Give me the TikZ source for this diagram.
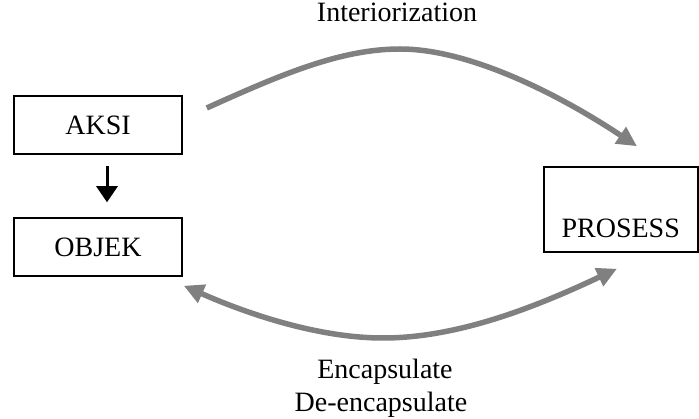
\documentclass[tikz,border=0pt]{standalone}
\usepackage{fontspec}
\setmainfont{Liberation Serif}
\usetikzlibrary{arrows.meta,calc}
\begin{document}
\begin{tikzpicture}[x=1pt,y=-1pt,
  box/.style={draw=black,line width=1.5pt,inner sep=0pt,font=\fontsize{28}{33}\selectfont},
  lbl/.style={inner sep=0pt,anchor=base,font=\fontsize{28}{33}\selectfont},
  garrow/.style={draw={rgb,255:red,128;green,128;blue,128},line width=5.5pt,
     -{Triangle[length=20pt,width=19pt]}},
  darrow/.style={draw={rgb,255:red,128;green,128;blue,128},line width=5.5pt,
     {Triangle[length=20pt,width=19pt]}-{Triangle[length=20pt,width=19pt]}},
  barrow/.style={draw=black,line width=3pt,-{Triangle[length=16pt,width=21pt]}}]
\useasboundingbox (0,0) rectangle (699,419);
\node[box,minimum width=168pt,minimum height=58pt] (aksi) at (98,125) {AKSI};
\node[box,minimum width=168pt,minimum height=58pt] (objek) at (98,247) {OBJEK};
\node[box,text width=154pt,align=center,text height=71pt,text depth=14pt,anchor=base west] (prosess) at (543,238) {PROSESS};
\node[lbl] (inter) at (397,22) {Interiorization};
\node[lbl] (enc) at (385,379) {Encapsulate};
\node[lbl] (denc) at (381,412) {De-encapsulate};
\coordinate (is) at ($(aksi.east)+(24,-17)$);
\coordinate (ip) at (400,49);
\coordinate (ie) at ($(prosess.north west)+(94,-20)$);
\coordinate (es) at ($(objek.south east)+(1,9)$);
\coordinate (ep) at (383,338);
\coordinate (ee) at ($(prosess.south west)+(74,16)$);
\draw[barrow,shorten <=11pt,shorten >=15pt] ([xshift=9pt]aksi.south) -- ([xshift=9pt]objek.north);
\draw[garrow] (is) .. controls (280,75) and (340,49) .. (ip) .. controls (470,49) and (560,95) .. (ie);
\draw[darrow] (es) .. controls (250,315) and (320,338) .. (ep) .. controls (460,338) and (540,305) .. (ee);
\end{tikzpicture}
\end{document}
